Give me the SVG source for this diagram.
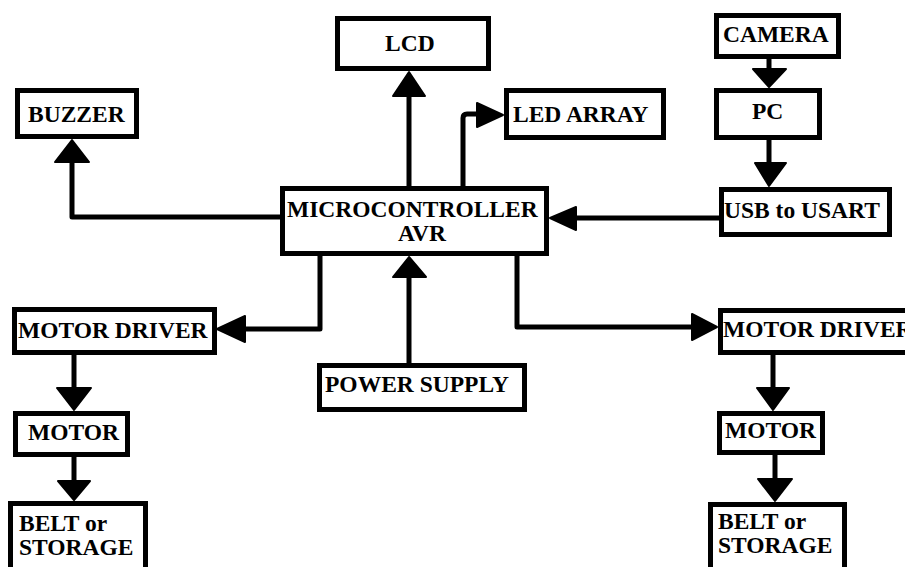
<svg xmlns="http://www.w3.org/2000/svg" width="905" height="567" viewBox="0 0 905 567">
<style>
.box{fill:#fff;stroke:#000;stroke-width:5}
.ln{fill:none;stroke:#000;stroke-width:5;stroke-linejoin:round}
.ah{fill:#000;stroke:#000;stroke-width:2;stroke-linejoin:round}
text{font-family:"Liberation Serif","Times New Roman",serif;font-weight:bold;font-size:23.5px;fill:#000}
</style>
<rect width="905" height="567" fill="#fff"/>
<g id="connectors">
<path class="ln" d="M282 217 H72 V160"/><polygon class="ah" points="72,140 55,162 89,162"/>
<path class="ln" d="M409 188 V94"/><polygon class="ah" points="409,72 393,96 425,96"/>
<path class="ln" d="M463 188 V118 Q463 114 467 114 H478"/><polygon class="ah" points="503,115 477,103 477,127"/>
<path class="ln" d="M769 58 V71"/><polygon class="ah" points="769,87 753,69 786,69"/>
<path class="ln" d="M769 140 V165"/><polygon class="ah" points="769,186 755,163 786,163"/>
<path class="ln" d="M720 218 H574"/><polygon class="ah" points="550,218 576,207 576,230"/>
<path class="ln" d="M320 255 V329 H243"/><polygon class="ah" points="217,329 245,316 245,342"/>
<path class="ln" d="M517 255 V327 H694"/><polygon class="ah" points="717,327 692,314 692,340"/>
<path class="ln" d="M409 364 V275"/><polygon class="ah" points="409,257 393,277 426,277"/>
<path class="ln" d="M74 354 V390"/><polygon class="ah" points="74,410 57,388 91,388"/>
<path class="ln" d="M74 456 V483"/><polygon class="ah" points="74,500 58,481 90,481"/>
<path class="ln" d="M773 354 V390"/><polygon class="ah" points="773,410 757,388 789,388"/>
<path class="ln" d="M775 454 V481"/><polygon class="ah" points="775,501 758,479 792,479"/>
</g>
<g id="lcd"><rect class="box" x="337.5" y="18.5" width="151" height="50"/><text x="385" y="51">LCD</text></g>
<g id="buzzer"><rect class="box" x="17.5" y="90.5" width="119" height="46"/><text x="28" y="122">BUZZER</text></g>
<g id="led-array"><rect class="box" x="506.5" y="90.5" width="157" height="47"/><text x="513" y="122">LED ARRAY</text></g>
<g id="camera"><rect class="box" x="716.5" y="15.5" width="122" height="41"/><text x="723" y="42">CAMERA</text></g>
<g id="pc"><rect class="box" x="716.5" y="90.5" width="103" height="47"/><text x="752" y="119">PC</text></g>
<g id="usb-usart"><rect class="box" x="721.5" y="189.5" width="168" height="45"/><text x="724" y="218">USB to USART</text></g>
<g id="microcontroller"><rect class="box" x="282.5" y="188.5" width="264" height="65"/><text x="287" y="217">MICROCONTROLLER</text><text x="398" y="241">AVR</text></g>
<g id="motor-driver-left"><rect class="box" x="14.5" y="309.5" width="200" height="43"/><text x="18" y="338">MOTOR DRIVER</text></g>
<g id="power-supply"><rect class="box" x="319.5" y="365.5" width="205" height="44"/><text x="325" y="392">POWER SUPPLY</text></g>
<g id="motor-driver-right"><rect class="box" x="720.5" y="310.5" width="195" height="42"/><text x="723" y="337">MOTOR DRIVER</text></g>
<g id="motor-left"><rect class="box" x="15.5" y="413.5" width="112" height="41"/><text x="28" y="440">MOTOR</text></g>
<g id="motor-right"><rect class="box" x="719.5" y="413.5" width="103" height="39"/><text x="725" y="438">MOTOR</text></g>
<g id="belt-left"><rect class="box" x="10.5" y="503.5" width="135" height="75"/><text x="19" y="531">BELT or</text><text x="19" y="555">STORAGE</text></g>
<g id="belt-right"><rect class="box" x="710.5" y="504.5" width="134" height="75"/><text x="718" y="529">BELT or</text><text x="718" y="553">STORAGE</text></g>
</svg>
